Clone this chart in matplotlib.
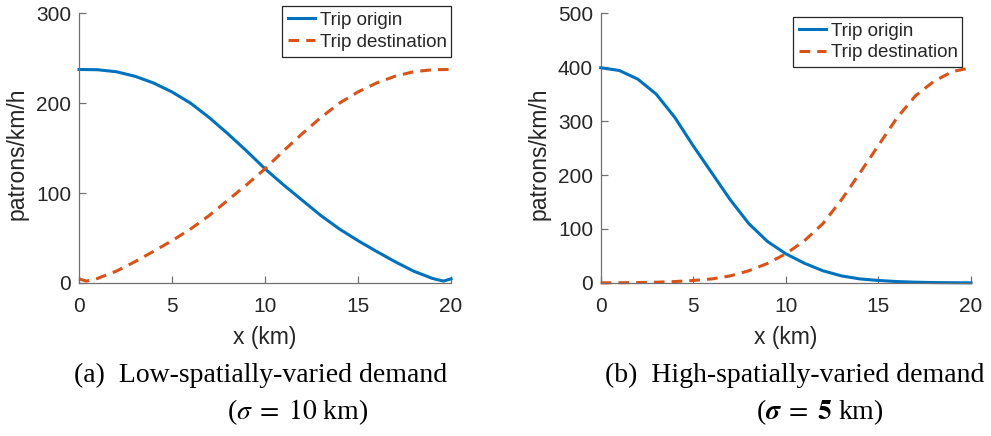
import matplotlib
matplotlib.use("Agg")
import matplotlib.pyplot as plt

# ---- data ----
low_x_origin = [0, 1, 2, 3, 4, 5, 6, 7, 8, 9, 10, 11, 12, 13, 14, 15, 16, 17, 18, 19, 19.6, 20]
low_origin = [237.5, 237.2, 235, 230, 222.5, 212.5, 200, 184, 166, 147, 127,
              109, 92, 75, 60, 47, 35, 23.5, 13, 5, 2, 4.5]
low_x_dest = [0, 0.4, 1, 2, 3, 4, 5, 6, 7, 8, 9, 10, 11, 12, 13, 14, 15, 16, 17, 18, 19, 20]
low_dest = [4.5, 2, 5, 13, 23.5, 35, 47, 60, 75, 92, 109, 127,
            147, 166, 184, 200, 212.5, 222.5, 230, 235, 237.2, 237.5]

high_x = [0, 1, 2, 3, 4, 5, 6, 7, 8, 9, 10, 11, 12, 13, 14, 15, 16, 17, 18, 19, 20]
high_origin = [399, 394, 378, 350, 307, 254, 204, 154, 110, 77, 54,
               36.5, 22.5, 13, 7.4, 4.5, 2.5, 1.3, 0.6, 0.3, 0.1]
high_dest = [0.1, 0.3, 0.6, 1.3, 2.5, 4.5, 7.4, 13, 22.5, 36, 54,
             78, 110, 154, 204, 255, 306, 347, 374, 392, 399]

xticks = [0, 5, 10, 15, 20]
low_yticks = [0, 100, 200, 300]
high_yticks = [0, 100, 200, 300, 400, 500]

series_labels = ["Trip origin", "Trip destination"]
xlabel = "x (km)"
ylabel = "patrons/km/h"
captions = ["(a)  Low-spatially-varied demand", "(b)  High-spatially-varied demand"]
sub_a = r"($\sigma\;=\;10$ km)"
sub_b = r"($\mathbfit{\sigma}\;=\;\mathbf{5}$ km)"

BLUE = "#0072BD"
ORANGE = "#D95319"
TXT = "#262626"
AX = "#707070"

plt.rcParams["font.family"] = ["Liberation Sans", "DejaVu Sans"]
plt.rcParams["mathtext.fontset"] = "stix"

W, H = 991, 436
fig = plt.figure(figsize=(W / 100, H / 100), dpi=100)
AX_BOT, AX_TOP = 282.9, 13.3
ax1 = fig.add_axes([79 / W, 1 - AX_BOT / H, 372 / W, (AX_BOT - AX_TOP) / H])
ax2 = fig.add_axes([600.7 / W, 1 - AX_BOT / H, 370.3 / W, (AX_BOT - AX_TOP) / H])


def style(ax, yt, ymax, width_px):
    ax.set_xlim(0, 20)
    ax.set_ylim(0, ymax)
    ax.set_xticks(xticks)
    ax.set_yticks(yt)
    for s in ["top", "right"]:
        ax.spines[s].set_visible(False)
    for s in ["left", "bottom"]:
        ax.spines[s].set_color(AX)
        ax.spines[s].set_linewidth(0.9)
    ax.tick_params(direction="in", length=5, width=0.9, color=AX,
                   labelsize=15, labelcolor=TXT)
    ax.tick_params(axis="x", pad=10)
    ax.tick_params(axis="y", pad=5.5)
    ax.set_xlabel(xlabel, fontsize=16.5, color=TXT)
    ax.set_ylabel(ylabel, fontsize=16.5, color=TXT)
    hpx = AX_BOT - AX_TOP
    ax.xaxis.set_label_coords(0.5, -(326 - AX_BOT) / hpx)
    ax.yaxis.set_label_coords(-50 / width_px, 0.48)


dash = (0, (3.5, 2.3))
ax1.plot(low_x_origin, low_origin, color=BLUE, lw=2.2, label=series_labels[0], clip_on=False)
ax1.plot(low_x_dest, low_dest, color=ORANGE, lw=2.2, ls=dash,
         label=series_labels[1], clip_on=False)
style(ax1, low_yticks, 300, 372)

ax2.plot(high_x, high_origin, color=BLUE, lw=2.2, label=series_labels[0], clip_on=False)
ax2.plot(high_x, high_dest, color=ORANGE, lw=2.2, ls=dash,
         label=series_labels[1], clip_on=False)
style(ax2, high_yticks, 500, 370.3)


def legend(ax, x0, y0, x1, y1):
    bb = (x0 / W, 1 - y1 / H, (x1 - x0) / W, (y1 - y0) / H)
    lg = ax.legend(loc="center", bbox_to_anchor=bb, bbox_transform=fig.transFigure,
                   fontsize=13.5, frameon=True, fancybox=False, framealpha=1,
                   handlelength=1.45, handletextpad=0.25, borderpad=0.32,
                   labelspacing=0.25, borderaxespad=0, mode="expand")
    lg.get_frame().set_edgecolor(TXT)
    lg.get_frame().set_linewidth(0.9)
    for t in lg.get_texts():
        t.set_color(TXT)


legend(ax1, 282, 4.7, 451, 57.7)
legend(ax2, 792.7, 15.7, 962, 68.3)

serif = ["Liberation Serif", "DejaVu Serif"]
fig.text(261 / W, 1 - 375 / H, captions[0], ha="center", va="center",
         fontsize=20, family=serif, color="black")
fig.text(298 / W, 1 - 412 / H, sub_a, ha="center", va="center",
         fontsize=20, family=serif, color="black")
fig.text(795 / W, 1 - 375 / H, captions[1], ha="center", va="center",
         fontsize=20, family=serif, color="black")
fig.text(820 / W, 1 - 412 / H, sub_b, ha="center", va="center",
         fontsize=20, family=serif, color="black")

fig.savefig("out.png", dpi=100)
